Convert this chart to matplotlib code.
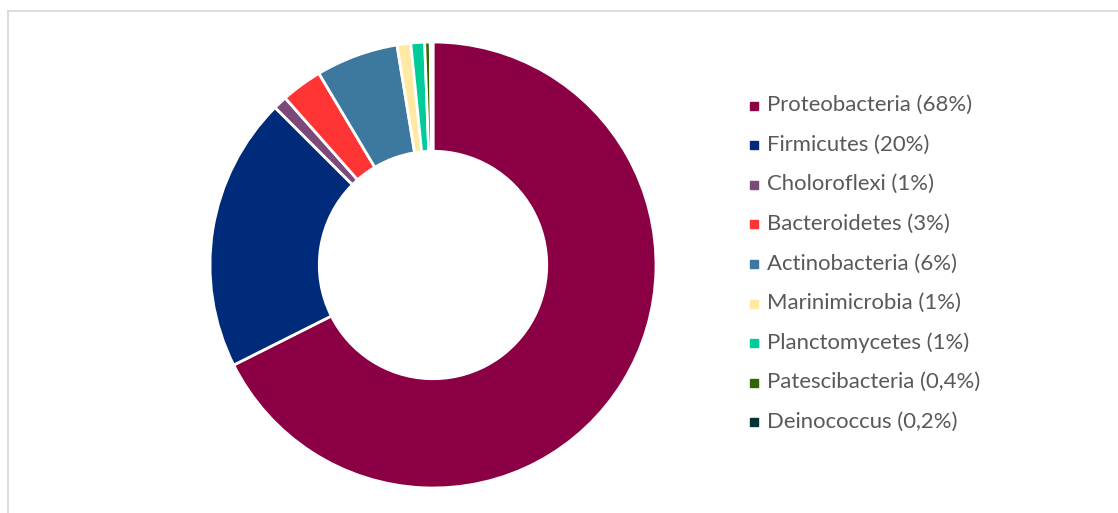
import matplotlib
matplotlib.use('Agg')
from matplotlib import pyplot as plt
from matplotlib.lines import Line2D

# phylum composition (percent)
phyla = ['Proteobacteria', 'Firmicutes', 'Choloroflexi', 'Bacteroidetes',
         'Actinobacteria', 'Marinimicrobia', 'Planctomycetes',
         'Patescibacteria', 'Deinococcus']
share = [68, 20, 1, 3, 6, 1, 1, 0.4, 0.2]
share_text = ['68%', '20%', '1%', '3%', '6%', '1%', '1%', '0,4%', '0,2%']
colors = ['#8b0045', '#002b7a', '#7b4a7b', '#ff3535', '#3d789e',
          '#ffe9a3', '#00cc99', '#336600', '#003333']

W, H = 1118, 513
fig = plt.figure(figsize=(W / 100, H / 100), dpi=100)

# light grey chart-area border (left and top edges only)
fig.add_artist(Line2D([7.5 / W, 7.5 / W], [0, 1 - 10.5 / H],
                      transform=fig.transFigure, color='#d9d9d9', lw=1.3))
fig.add_artist(Line2D([7.5 / W, 1], [1 - 10.5 / H, 1 - 10.5 / H],
                      transform=fig.transFigure, color='#d9d9d9', lw=1.3))

# donut: centre (433, 265) px, outer radius 223 px
cx, cy, r = 433, 265, 223
ax = fig.add_axes([(cx - r) / W, (H - cy - r) / H, 2 * r / W, 2 * r / H])
wedges, _ = ax.pie(share, colors=colors, startangle=90, counterclock=False,
                   radius=1, wedgeprops=dict(width=0.49, edgecolor='white', linewidth=2))
ax.set_xlim(-1, 1)
ax.set_ylim(-1, 1)
ax.axis('off')

# legend entries, one row every ~39.6 px
row0, step = 111, 39.6
for i, (p, t, c) in enumerate(zip(phyla, share_text, colors)):
    base = row0 + step * i
    fig.add_artist(Line2D([753.5 / W], [1 - (base - 5.5) / H], marker='s', ls='',
                          color=c, markersize=5.6, transform=fig.transFigure))
    fig.text(767 / W, 1 - base / H, f'{p} ({t})', family='Lato', size=15.9,
             color='#595959', ha='left', va='baseline')

fig.savefig('out.png', dpi=100)
